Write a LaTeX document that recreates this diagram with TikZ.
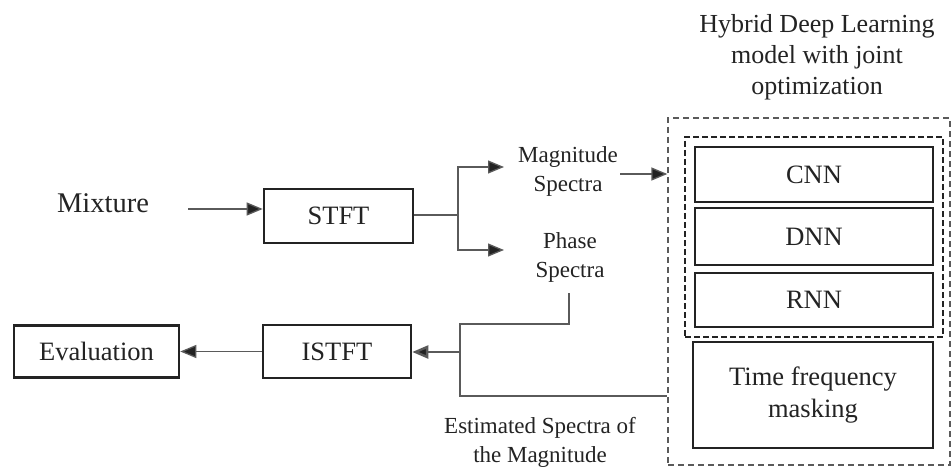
\documentclass[tikz,border=0pt]{standalone}
\usepackage{fontspec}
\setmainfont{Liberation Serif}
\usetikzlibrary{arrows.meta}
\definecolor{ink}{HTML}{232323}
\definecolor{wirec}{HTML}{5A5A5A}
\begin{document}
\begin{tikzpicture}[x=1pt,y=-1pt,
  blk/.style={draw=ink, line width=2.6pt, inner sep=0pt, text=ink,
    font=\fontsize{26.5}{32}\selectfont, align=center},
  lbl/.style={text=ink, inner sep=0pt, align=center,
    font=\fontsize{23}{29}\selectfont},
  wire/.style={draw=wirec, line width=1.3pt},
  arr/.style={wire, -{Triangle[length=16pt,width=13pt,fill=ink]}},
  outerbox/.style={draw=wirec, line width=1.3pt, dash pattern=on 6pt off 4pt,
    inner sep=0pt},
  innerbox/.style={draw=ink, line width=2.4pt, dash pattern=on 6pt off 3pt,
    inner sep=0pt}]
\useasboundingbox[fill=white] (0,0) rectangle (951,468);

% left-hand chain
\node[lbl, font=\fontsize{28.5}{34}\selectfont] (mix) at (103,203) {Mixture};
\node[blk, minimum width=149pt, minimum height=54pt] (stft) at (338.5,216) {STFT};
\node[blk, minimum width=148pt, minimum height=53pt] (istft) at (337,351.5) {ISTFT};
\node[blk, minimum width=165pt, minimum height=52pt] (eval) at (96.5,351.5) {Evaluation};

% spectra labels
\node[lbl] (mag) at (568,171) {Magnitude\\Spectra};
\node[lbl] (phase) at (570,257) {Phase\\Spectra};
\node[lbl] (est) at (540,442) {Estimated Spectra of\\the Magnitude};

% hybrid model
\node[lbl, font=\fontsize{26}{31}\selectfont] (title) at (817,57)
  {Hybrid Deep Learning\\model with joint\\optimization};
\node[outerbox, minimum width=282pt, minimum height=347pt] (model) at (809,291.5) {};
\node[innerbox, minimum width=258pt, minimum height=200pt] (nets) at (814,237) {};
\node[blk, minimum width=238pt, minimum height=55pt] (cnn) at (814,174.5) {CNN};
\node[blk, minimum width=238pt, minimum height=57pt] (dnn) at (814,236.5) {DNN};
\node[blk, minimum width=238pt, minimum height=54pt] (rnn) at (814,300) {RNN};
\node[blk, minimum width=240pt, minimum height=106pt] (tfm) at (813,395)
  {\raisebox{7pt}{\parbox{230pt}{\centering Time frequency\\masking}}};

% connectors
\coordinate (mixout) at (188,209);
\draw[arr] (mixout) -- (mixout -| stft.west);

\coordinate (fork) at (458,215);
\coordinate (magin) at (504,167);
\coordinate (phin) at (504,250);
\draw[wire] (stft.east |- fork) -- (fork);
\draw[arr] (fork) |- (magin);
\draw[arr] (fork) |- (phin);

\coordinate (magout) at (620,174);
\draw[arr] (magout) -- (magout -| model.west);

\coordinate (phout) at (569,293);
\coordinate (jtop) at (460,324);
\coordinate (jbot) at (460,396);
\coordinate (jmid) at (460,352);
\draw[wire] (phout) |- (jtop) -- (jbot) -- (jbot -| model.west);
\draw[arr, line width=2.4pt] (jmid) -- (jmid -| istft.east);
\draw[arr] (istft.west) -- (eval.east);
\end{tikzpicture}
\end{document}
